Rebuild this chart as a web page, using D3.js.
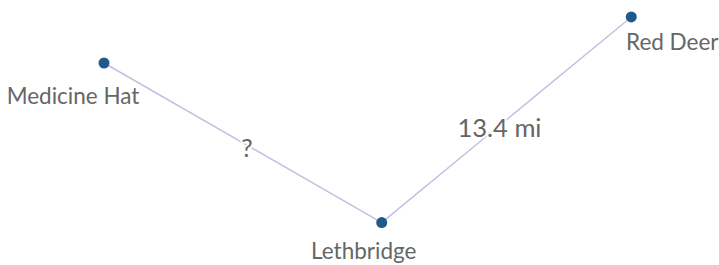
<!DOCTYPE html>
<html>
<head>
<meta charset="utf-8">
<script src="https://cdn.jsdelivr.net/npm/d3@7"></script>
<style>
  body { margin: 0; background: #fff; }
  text { font-family: "Source Sans Pro", Lato, sans-serif; }
</style>
</head>
<body>
<div id="chart"></div>
<script>
// cities and their schematic positions (map units)
var cities = ["Medicine Hat", "Lethbridge", "Red Deer"];
var cityX = [1.0, 4.45, 7.55];
var cityY = [5.8, 0.6, 7.3];

// routes between cities
var routeFrom = ["Medicine Hat", "Lethbridge"];
var routeTo = ["Lethbridge", "Red Deer"];
var routeLabels = ["?", "13.4 mi"];

(function() {
    var width = 719;
    var height = 265;

    var nodes = cities.map((c, i) => ({name: c, x: cityX[i], y: cityY[i]}));
    var byName = {};
    nodes.forEach(n => byName[n.name] = n);
    var links = routeFrom.map((f, i) => ({source: byName[f], target: byName[routeTo[i]], label: routeLabels[i]}));

    var x = d3.scaleLinear().domain([0, 9]).range([23.5, 748]);
    var y = d3.scaleLinear().domain([0, 8]).range([241, -4.5]);

    // label placement relative to each node / route midpoint
    var labelDx = {"Medicine Hat": -31, "Lethbridge": -18, "Red Deer": 41};
    var labelDy = {"Medicine Hat": 41, "Lethbridge": 36, "Red Deer": 33};
    var routeDx = {"?": 4, "13.4 mi": -7};
    var routeDy = {"?": 14, "13.4 mi": 17};

    var svg = d3.select('#chart')
        .append('svg')
        .attr('width', width)
        .attr('height', height);

    // route lines
    svg.append('g')
        .selectAll('line')
        .data(links)
        .join('line')
            .attr('x1', d => x(d.source.x))
            .attr('y1', d => y(d.source.y))
            .attr('x2', d => x(d.target.x))
            .attr('y2', d => y(d.target.y))
            .attr('stroke', '#c4bfe0')
            .attr('stroke-width', 1.5);

    // route labels
    svg.append('g')
        .selectAll('text')
        .data(links)
        .join('text')
            .attr('x', d => (x(d.source.x) + x(d.target.x)) / 2 + routeDx[d.label])
            .attr('y', d => (y(d.source.y) + y(d.target.y)) / 2 + routeDy[d.label])
            .attr('text-anchor', 'middle')
            .attr('font-size', '25.5px')
            .attr('fill', '#666')
            .attr('stroke', 'rgba(255,255,255,0.85)')
            .attr('stroke-width', 4)
            .attr('paint-order', 'stroke')
            .text(d => d.label);

    // city dots
    svg.append('g')
        .selectAll('circle')
        .data(nodes)
        .join('circle')
            .attr('cx', d => x(d.x))
            .attr('cy', d => y(d.y))
            .attr('r', 5.5)
            .attr('fill', '#1f5a8c');

    // city names
    svg.append('g')
        .selectAll('text')
        .data(nodes)
        .join('text')
            .attr('x', d => x(d.x) + labelDx[d.name])
            .attr('y', d => y(d.y) + labelDy[d.name])
            .attr('text-anchor', 'middle')
            .attr('font-size', '22.5px')
            .attr('fill', '#666')
            .attr('stroke', 'rgba(255,255,255,0.85)')
            .attr('stroke-width', 4)
            .attr('paint-order', 'stroke')
            .text(d => d.name);
})();
</script>
</body>
</html>
